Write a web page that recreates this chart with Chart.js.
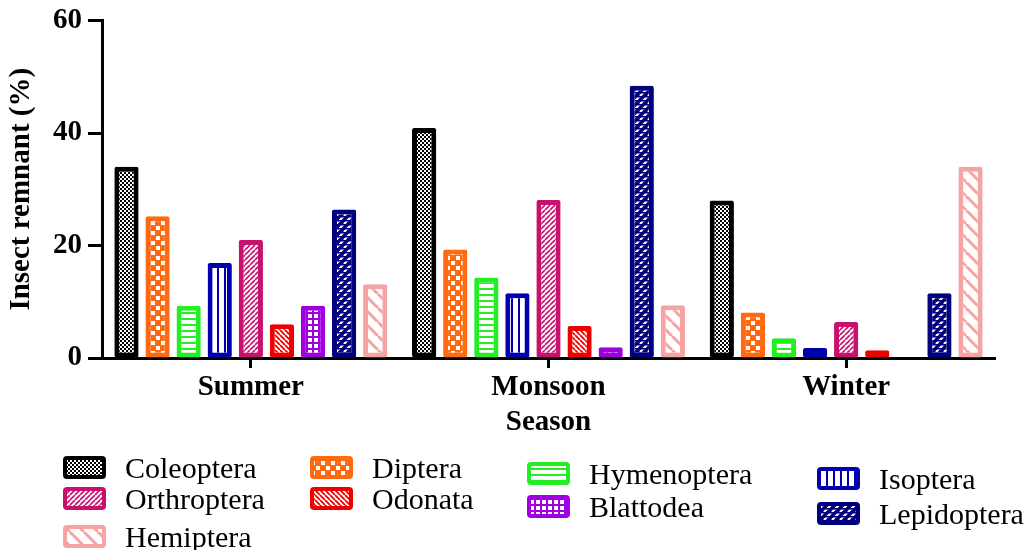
<!DOCTYPE html>
<html>
<head>
<meta charset="utf-8">
<script src="https://cdn.jsdelivr.net/npm/chart.js@4/dist/chart.umd.min.js"></script>
<style>
  body { margin: 0; background: #fff; }
  #wrap { width: 1035px; height: 550px; }
</style>
</head>
<body>
<div id="wrap"><canvas id="insectChart" width="1035" height="550"></canvas></div>
<script>
// seasons on the x axis
const seasons = ["Summer", "Monsoon", "Winter"];

// insect remnant (%) per order, in season order
const coleoptera  = [34.0, 40.9, 28.0];
const diptera     = [25.2, 19.3, 8.1];
const hymenoptera = [9.3, 14.3, 3.5];
const isoptera    = [16.9, 11.5, 1.8];
const orthroptera = [21.0, 28.1, 6.4];
const odonata     = [6.0, 5.7, 1.4];
const blattodea   = [9.3, 1.9, 0];
const lepidoptera = [26.4, 48.4, 11.5];
const hemiptera   = [13.1, 9.4, 34.0];

const yTicks = [0, 20, 40, 60];

const serif = "'Liberation Serif', 'Times New Roman', serif";

// small tile -> canvas pattern
function tile(w, h, draw) {
  const c = document.createElement('canvas');
  c.width = w; c.height = h;
  const g = c.getContext('2d');
  g.fillStyle = '#fff';
  g.fillRect(0, 0, w, h);
  draw(g, w, h);
  return g.createPattern(c, 'repeat');
}

function diag(g, w, color, lw, rising) {
  g.strokeStyle = color;
  g.lineWidth = lw;
  g.beginPath();
  for (const k of [-w, 0, w]) {
    if (rising) { g.moveTo(k, w); g.lineTo(k + w, 0); }
    else { g.moveTo(k, 0); g.lineTo(k + w, w); }
  }
  g.stroke();
}

const fills = {
  coleoptera: tile(4, 4, (g) => {
    g.fillStyle = '#000';
    g.fillRect(0, 0, 2, 2); g.fillRect(2, 2, 2, 2);
  }),
  diptera: tile(10, 10, (g) => {
    g.fillStyle = '#ff6a10';
    g.fillRect(0, 0, 10, 10);
    g.fillStyle = '#fff';
    g.fillRect(1, 1, 4, 4); g.fillRect(6, 6, 4, 4);
  }),
  hymenoptera: tile(6, 6, (g) => {
    g.fillStyle = '#22ee22';
    g.fillRect(0, 0, 6, 2);
  }),
  isoptera: tile(7, 7, (g) => {
    g.fillStyle = '#0000b0';
    g.fillRect(0, 0, 2, 7);
  }),
  orthroptera: tile(5, 5, (g) => diag(g, 5, '#c8106e', 1.6, true)),
  odonata: tile(5, 5, (g) => diag(g, 5, '#ee0000', 1.8, false)),
  blattodea: tile(6, 6, (g) => {
    g.fillStyle = '#a000e0';
    g.fillRect(0, 0, 6, 2); g.fillRect(0, 0, 2, 6);
  }),
  lepidoptera: tile(8, 8, (g) => {
    g.fillStyle = '#00007f';
    g.fillRect(0, 0, 8, 8);
    diag(g, 8, '#fff', 2.2, true);
    g.fillStyle = '#00007f';
    g.fillRect(0, 0, 8, 1.5); g.fillRect(0, 4, 8, 1.5);
  }),
  hemiptera: tile(14, 14, (g) => diag(g, 14, '#f5a3a3', 3, false))
};

function series(label, data, color, fill) {
  return {
    label: label,
    data: data,
    backgroundColor: fill,
    borderColor: color,
    borderWidth: 5,
    borderRadius: 2,
    borderSkipped: false,
    categoryPercentage: 0.94,
    barPercentage: 0.78
  };
}

const datasets = [
  series('Coleoptera', coleoptera, '#000000', fills.coleoptera),
  series('Diptera', diptera, '#ff6a10', fills.diptera),
  series('Hymenoptera', hymenoptera, '#22ee22', fills.hymenoptera),
  series('Isoptera', isoptera, '#0000b0', fills.isoptera),
  series('Orthroptera', orthroptera, '#c8106e', fills.orthroptera),
  series('Odonata', odonata, '#ee0000', fills.odonata),
  series('Blattodea', blattodea, '#a000e0', fills.blattodea),
  series('Lepidoptera', lepidoptera, '#00007f', fills.lepidoptera),
  series('Hemiptera', hemiptera, '#f5a3a3', fills.hemiptera)
];

// legend swatch corners, same order as datasets (4 loose columns)
const legendSpots = [
  [63, 456], [310, 456], [527, 462], [817, 467],
  [63, 487], [310, 487], [527, 495], [817, 502],
  [63, 525]
];

const patternLegend = {
  id: 'patternLegend',
  afterDraw(chart) {
    const ctx = chart.ctx;
    ctx.save();
    chart.data.datasets.forEach((ds, i) => {
      const [x, y] = legendSpots[i];
      const w = 43, h = 23;
      ctx.beginPath();
      ctx.roundRect(x + 2, y + 2, w - 4, h - 4, 2);
      ctx.fillStyle = ds.backgroundColor;
      ctx.fill();
      ctx.lineWidth = 4;
      ctx.strokeStyle = ds.borderColor;
      ctx.stroke();
      ctx.fillStyle = '#000';
      ctx.font = '30px ' + serif;
      ctx.textBaseline = 'alphabetic';
      ctx.fillText(ds.label, x + 62, y + h - 1);
    });
    ctx.restore();
  }
};

const boldFont = { family: serif, size: 29, weight: 'bold' };

new Chart(document.getElementById('insectChart'), {
  type: 'bar',
  data: { labels: seasons, datasets: datasets },
  options: {
    responsive: false,
    animation: false,
    layout: { padding: { top: 20, right: 40, bottom: 110, left: 0 } },
    plugins: { legend: { display: false }, tooltip: { enabled: false } },
    scales: {
      x: {
        grid: { drawOnChartArea: false, offset: false, tickLength: 10, tickWidth: 3, tickColor: '#000' },
        border: { width: 3, color: '#000' },
        ticks: { font: boldFont, color: '#000', padding: 2 },
        title: { display: true, text: 'Season', font: boldFont, color: '#000', padding: { top: 0, bottom: 0 } },
        afterFit(s) { s.height = 82; }
      },
      y: {
        min: 0,
        max: 60,
        afterBuildTicks(s) { s.ticks = yTicks.map(v => ({ value: v })); },
        grid: { drawOnChartArea: false, tickLength: 14, tickWidth: 3, tickColor: '#000' },
        border: { width: 3, color: '#000' },
        ticks: { font: { family: serif, size: 29, weight: 'bold', lineHeight: 1 }, color: '#000', padding: 6 },
        title: { display: true, text: 'Insect remnant (%)', font: boldFont, color: '#000', padding: { top: 4, bottom: 0 } },
        afterFit(s) { s.width = 102; }
      }
    }
  },
  plugins: [patternLegend]
});
</script>
</body>
</html>
